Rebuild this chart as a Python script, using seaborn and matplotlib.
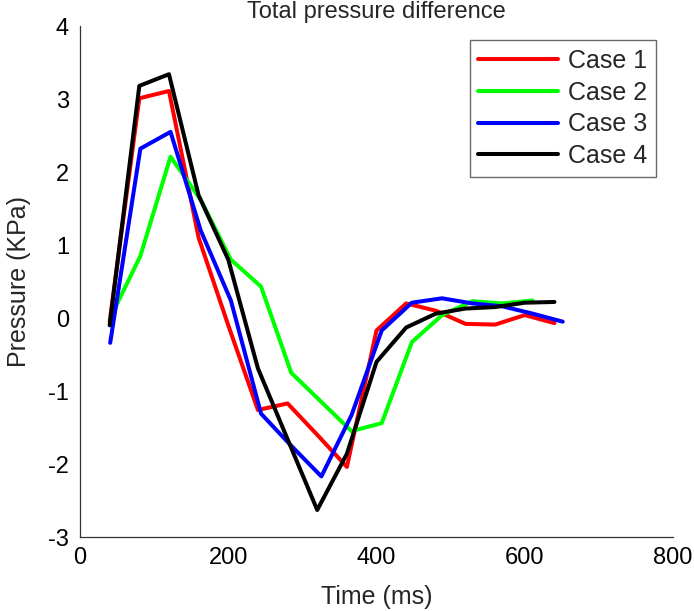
import matplotlib
matplotlib.use("Agg")
import matplotlib.pyplot as plt
import seaborn as sns
import pandas as pd

# ---- data ----
t_case1 = [40, 80, 120, 160, 200, 240, 280, 320, 360, 400, 440, 480, 520, 560, 600, 640]
case1 = [-0.05, 3.01, 3.11, 1.10, -0.10, -1.26, -1.17, -1.60, -2.04, -0.17, 0.20, 0.10, -0.08, -0.09, 0.04, -0.07]

t_case2 = [40.7, 81.4, 122.1, 162.8, 203.5, 244.2, 284.9, 325.6, 366.3, 407.0, 447.7, 488.4, 529.1, 569.8, 610.5]
case2 = [0.00, 0.85, 2.21, 1.62, 0.80, 0.43, -0.75, -1.15, -1.55, -1.44, -0.33, 0.04, 0.23, 0.20, 0.24]

t_case3 = [40.7, 81.4, 122.1, 162.8, 203.5, 244.2, 284.9, 325.6, 366.3, 407.0, 447.7, 488.4, 529.1, 569.8, 610.5, 651.2]
case3 = [-0.34, 2.32, 2.55, 1.20, 0.24, -1.31, -1.75, -2.17, -1.33, -0.17, 0.21, 0.27, 0.20, 0.16, 0.06, -0.05]

t_case4 = [40, 80, 120, 160, 200, 240, 280, 320, 360, 400, 440, 480, 520, 560, 600, 640]
case4 = [-0.10, 3.18, 3.34, 1.68, 0.80, -0.69, -1.66, -2.63, -1.86, -0.60, -0.13, 0.06, 0.13, 0.15, 0.21, 0.22]

labels = ["Case 1", "Case 2", "Case 3", "Case 4"]
colors = ["#ff0000", "#00ff00", "#0000ff", "#000000"]
x_ticks = [0, 200, 400, 600, 800]
y_ticks = [-3, -2, -1, 0, 1, 2, 3, 4]

frames = []
for lab, t, v in zip(labels, [t_case1, t_case2, t_case3, t_case4], [case1, case2, case3, case4]):
    frames.append(pd.DataFrame({"Time": t, "Pressure": v, "Case": lab}))
df = pd.concat(frames, ignore_index=True)

sns.set_theme(style="white")
plt.rcParams["font.family"] = ["Liberation Sans", "DejaVu Sans"]
plt.rcParams["axes.unicode_minus"] = False

fig = plt.figure(figsize=(6.94, 6.11), dpi=100)
ax = fig.add_axes([0.1153, 0.1211, 0.8545, 0.8363])

sns.lineplot(data=df, x="Time", y="Pressure", hue="Case", palette=colors,
             hue_order=labels, sort=False, estimator=None, linewidth=2.9, ax=ax)

ax.set_xlim(0, 800)
ax.set_ylim(-3, 4)
ax.set_xticks(x_ticks)
ax.set_yticks(y_ticks)
ax.tick_params(direction="in", length=5, width=0.8, colors="#333333",
               labelcolor="black", labelsize=17)
ax.tick_params(axis="x", pad=7)
ax.tick_params(axis="y", pad=8)
for s in ["top", "right"]:
    ax.spines[s].set_visible(False)
for s in ["left", "bottom"]:
    ax.spines[s].set_color("#333333")
    ax.spines[s].set_linewidth(0.9)

ax.set_xlabel("Time (ms)", fontsize=18, labelpad=12)
ax.set_ylabel("Pressure (KPa)", fontsize=18, labelpad=12)
ax.set_title("Total pressure difference", fontsize=17, pad=5.5)

leg = ax.legend(loc="upper center", bbox_to_anchor=(0.8145, 0.9726), borderaxespad=0,
                fontsize=18, handlelength=3.2, handletextpad=0.4, labelspacing=0.31,
                borderpad=0.35, frameon=True, fancybox=False)
leg.get_frame().set_edgecolor("#444444")
leg.get_frame().set_linewidth(1.0)
for h in leg.get_lines():
    h.set_linewidth(2.9)

fig.savefig("out.png", dpi=100)
